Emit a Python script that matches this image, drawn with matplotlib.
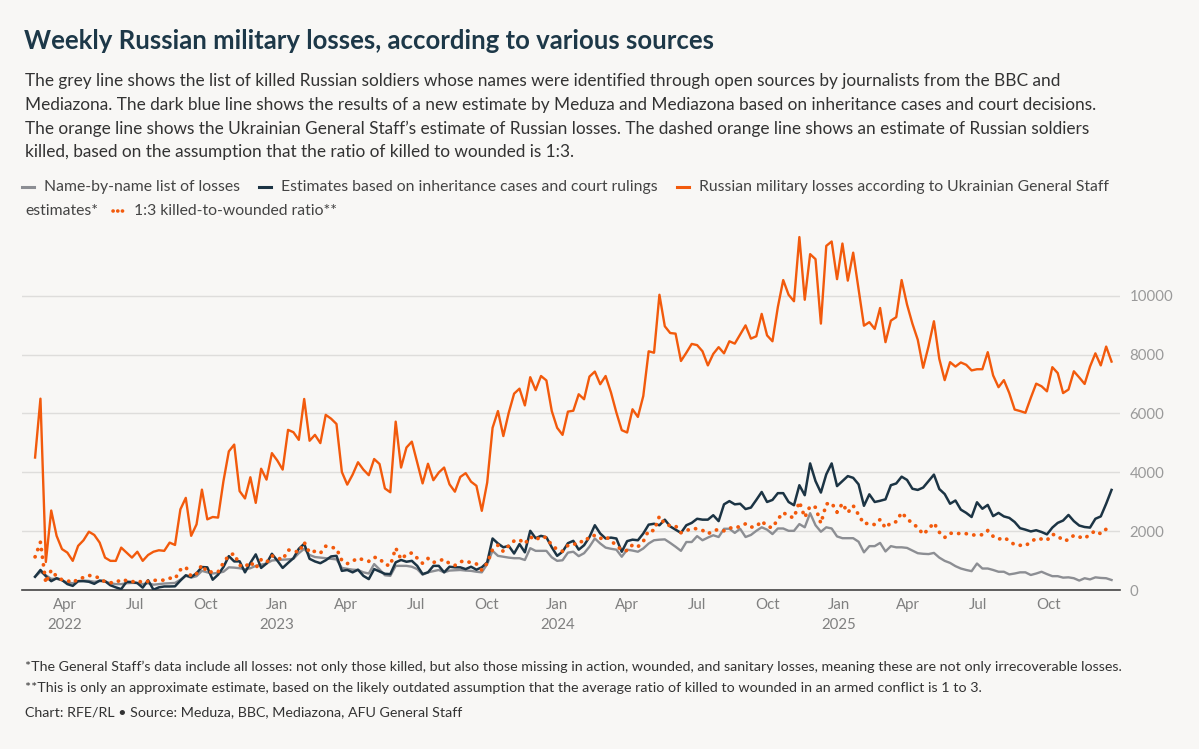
import matplotlib
matplotlib.use('Agg')
import matplotlib.pyplot as plt
from matplotlib.lines import Line2D
import pandas as pd

plt.rcParams['font.family'] = ['Lato', 'DejaVu Sans']

# weekly values, first week starting 2022-02-21
start_week = '2022-02-21'

genstaff = [
    4500, 6500, 950, 2700, 1840, 1390, 1270, 990, 1500, 1690,
    1980, 1870, 1610, 1100, 990, 990, 1440, 1270, 1100, 1300,
    990, 1190, 1300, 1350, 1330, 1610, 1530, 2740, 3130, 1840,
    2230, 3410, 2400, 2480, 2460, 3700, 4710, 4940, 3360, 3110,
    3830, 2960, 4120, 3750, 4650, 4400, 4090, 5440, 5360, 5100,
    6490, 5070, 5270, 4990, 5950, 5820, 5640, 4010, 3580, 3920,
    4340, 4090, 3900, 4450, 4280, 3450, 3320, 5720, 4160, 4840,
    5040, 4330, 3620, 4290, 3730, 3990, 4160, 3590, 3340, 3840,
    3970, 3680, 3540, 2690, 3650, 5510, 6080, 5230, 6020, 6670,
    6840, 6270, 7230, 6790, 7270, 7120, 6080, 5510, 5270, 6060,
    6090, 6650, 6480, 7250, 7420, 6990, 7270, 6710, 6030, 5430,
    5350, 6140, 5880, 6590, 8110, 8060, 10030, 8960, 8730, 8710,
    7780, 8060, 8360, 8320, 8110, 7630, 8020, 8250, 8040, 8450,
    8370, 8680, 8990, 8540, 8620, 9380, 8650, 8450, 9610, 10530,
    10030, 9810, 11990, 9860, 11410, 11240, 9050, 11690, 11840, 10560,
    11770, 10510, 11460, 10230, 8980, 9100, 8870, 9580, 8420, 9150,
    9270, 10530, 9700, 9050, 8500, 7550, 8280, 9130, 7850, 7130,
    7740, 7590, 7730, 7650, 7460, 7500, 7500, 8080, 7290, 6890,
    7130, 6690, 6130, 6080, 6020, 6530, 7010, 6920, 6750, 7570,
    7370, 6690, 6810, 7430, 7220, 7000, 7590, 8040, 7630, 8270,
    7760,
]

ratio_1_3 = [
    1125, 1625, 238, 675, 460, 348, 318, 248, 375, 423,
    495, 468, 403, 275, 248, 248, 360, 318, 275, 325,
    248, 298, 325, 338, 333, 403, 383, 685, 783, 460,
    558, 853, 600, 620, 615, 925, 1178, 1235, 840, 778,
    958, 740, 1030, 938, 1163, 1100, 1023, 1360, 1340, 1275,
    1623, 1268, 1318, 1248, 1488, 1455, 1410, 1003, 895, 980,
    1085, 1023, 975, 1113, 1070, 863, 830, 1430, 1040, 1210,
    1260, 1083, 905, 1073, 933, 998, 1040, 898, 835, 960,
    993, 920, 885, 673, 913, 1378, 1520, 1308, 1505, 1668,
    1710, 1568, 1808, 1698, 1818, 1780, 1520, 1378, 1318, 1515,
    1523, 1663, 1620, 1813, 1855, 1748, 1818, 1678, 1508, 1358,
    1338, 1535, 1470, 1648, 2028, 2015, 2508, 2240, 2183, 2178,
    1945, 2015, 2090, 2080, 2028, 1908, 2005, 2063, 2010, 2113,
    2093, 2170, 2248, 2135, 2155, 2345, 2163, 2113, 2403, 2633,
    2508, 2453, 2998, 2465, 2853, 2810, 2263, 2923, 2960, 2640,
    2943, 2628, 2865, 2558, 2245, 2275, 2218, 2395, 2105, 2288,
    2318, 2633, 2425, 2263, 2125, 1888, 2070, 2283, 1963, 1783,
    1935, 1898, 1933, 1913, 1865, 1875, 1875, 2020, 1823, 1723,
    1783, 1673, 1533, 1520, 1505, 1633, 1753, 1730, 1688, 1893,
    1843, 1673, 1703, 1858, 1805, 1750, 1898, 2010, 1908, 2068,
    1940,
]

inheritance = [
    450, 680, 470, 300, 400, 340, 200, 140, 300, 300,
    280, 210, 320, 300, 160, 90, 30, 280, 270, 235,
    80, 330, 10, 90, 120, 120, 125, 320, 500, 440,
    570, 780, 770, 350, 520, 780, 1150, 970, 975, 600,
    920, 1210, 750, 900, 1230, 1000, 750, 920, 1080, 1400,
    1570, 1060, 970, 910, 1010, 1140, 1160, 650, 680, 600,
    690, 480, 370, 710, 630, 550, 540, 940, 1020, 960,
    990, 820, 540, 600, 820, 820, 600, 790, 770, 770,
    710, 790, 690, 770, 940, 1750, 1580, 1450, 1500, 1240,
    1560, 1280, 2010, 1760, 1840, 1790, 1450, 1160, 1300, 1590,
    1670, 1370, 1520, 1800, 2200, 1920, 1750, 1780, 1750, 1300,
    1660, 1710, 1690, 1920, 2220, 2250, 2200, 2390, 2160, 2050,
    1940, 2200, 2280, 2420, 2390, 2390, 2540, 2340, 2910, 3020,
    2910, 2930, 2750, 2800, 3060, 3330, 2990, 3060, 3290, 3290,
    2990, 2880, 3560, 3220, 4300, 3700, 3310, 3930, 4300, 3530,
    3700, 3870, 3810, 3590, 2860, 3250, 2990, 3030, 3080, 3560,
    3620, 3850, 3740, 3440, 3400, 3480, 3700, 3920, 3430, 3260,
    2930, 3040, 2730, 2620, 2480, 2980, 2760, 2890, 2510, 2620,
    2500, 2450, 2310, 2100, 2050, 1990, 2030, 1970, 1890, 2120,
    2280, 2360, 2550, 2340, 2190, 2140, 2120, 2420, 2500, 2930,
    3400,
]

names_list = [
    450, 620, 500, 380, 380, 330, 250, 230, 300, 320,
    310, 280, 300, 290, 230, 200, 200, 230, 240, 240,
    200, 230, 180, 200, 220, 230, 240, 350, 480, 420,
    470, 650, 600, 560, 580, 620, 770, 760, 740, 700,
    740, 820, 860, 900, 1000, 1020, 1030, 1040, 1060, 1250,
    1400, 1190, 1120, 1100, 1080, 1060, 1040, 750, 720, 690,
    680, 600, 560, 880, 700, 500, 480, 820, 820, 820,
    790, 710, 520, 600, 640, 680, 600, 660, 670, 680,
    660, 650, 620, 600, 880, 1330, 1160, 1130, 1100, 1080,
    1080, 1020, 1420, 1330, 1330, 1330, 1110, 990, 1010, 1270,
    1300, 1150, 1250, 1470, 1750, 1580, 1440, 1400, 1370, 1130,
    1370, 1340, 1300, 1410, 1580, 1690, 1710, 1720, 1600, 1470,
    1330, 1630, 1630, 1830, 1690, 1780, 1860, 1800, 2080, 2080,
    1940, 2080, 1800, 1870, 2010, 2130, 2050, 1900, 2090, 2090,
    2010, 2010, 2240, 2130, 2610, 2200, 1980, 2130, 2090, 1820,
    1760, 1760, 1760, 1640, 1280, 1490, 1490, 1600, 1310, 1490,
    1450, 1450, 1430, 1340, 1250, 1230, 1220, 1260, 1100, 990,
    920, 810, 730, 680, 640, 900, 730, 730, 680, 620,
    620, 530, 560, 600, 600, 510, 560, 620, 540, 470,
    470, 420, 430, 400, 320, 400, 360, 430, 410, 400,
    340,
]

tick_dates = ['2022-04-01', '2022-07-01', '2022-10-01', '2023-01-01',
              '2023-04-01', '2023-07-01', '2023-10-01', '2024-01-01',
              '2024-04-01', '2024-07-01', '2024-10-01', '2025-01-01',
              '2025-04-01', '2025-07-01', '2025-10-01']
tick_labels = ['Apr\n2022', 'Jul', 'Oct', 'Jan\n2023', 'Apr', 'Jul', 'Oct',
               'Jan\n2024', 'Apr', 'Jul', 'Oct', 'Jan\n2025', 'Apr', 'Jul', 'Oct']
y_ticks = [0, 2000, 4000, 6000, 8000, 10000]

title = 'Weekly Russian military losses, according to various sources'
subtitle = [
    'The grey line shows the list of killed Russian soldiers whose names were identified through open sources by journalists from the BBC and',
    'Mediazona. The dark blue line shows the results of a new estimate by Meduza and Mediazona based on inheritance cases and court decisions.',
    'The orange line shows the Ukrainian General Staff\u2019s estimate of Russian losses. The dashed orange line shows an estimate of Russian soldiers',
    'killed, based on the assumption that the ratio of killed to wounded is 1:3.',
]
footer = [
    '*The General Staff\u2019s data include all losses: not only those killed, but also those missing in action, wounded, and sanitary losses, meaning these are not only irrecoverable losses.',
    '**This is only an approximate estimate, based on the likely outdated assumption that the average ratio of killed to wounded in an armed conflict is 1 to 3.',
    'Chart: RFE/RL \u2022 Source: Meduza, BBC, Mediazona, AFU General Staff',
]

BG = '#f8f7f5'
ORANGE = '#f25a0c'
NAVY = '#1c3444'
GREY = '#8c8e93'
TEXT = '#333333'

W, H = 1199, 749
fig = plt.figure(figsize=(W / 100, H / 100), dpi=100, facecolor=BG)


def fy(px):
    return 1 - px / H


weeks = pd.date_range(start_week, periods=len(genstaff), freq='7D')

ax = fig.add_axes([22 / W, fy(590), (1120 - 22) / W, (590 - 225) / H])
ax.set_facecolor(BG)
ax.plot(weeks, names_list, color=GREY, lw=1.7, zorder=3)
ax.plot(weeks, inheritance, color=NAVY, lw=1.8, zorder=4)
ax.plot(weeks, genstaff, color=ORANGE, lw=1.7, zorder=5)
ax.plot(weeks, ratio_1_3, color=ORANGE, lw=2.7, linestyle=(0, (0.05, 2.0)),
        dash_capstyle='round', zorder=6)

ax.set_xlim(pd.Timestamp('2022-02-04'), pd.Timestamp('2026-01-02'))
ax.set_ylim(0, 12400)
ax.set_xticks(pd.to_datetime(tick_dates))
ax.set_xticklabels(tick_labels, linespacing=1.5)
ax.set_yticks(y_ticks)
ax.set_yticklabels([str(v) for v in y_ticks])
ax.yaxis.tick_right()
ax.tick_params(axis='y', length=0, pad=7, labelcolor='#9a9a9a', labelsize=10.8)
ax.tick_params(axis='x', length=0, pad=6, labelcolor='#808080', labelsize=10.8)
ax.yaxis.grid(True, color='#dedddb', lw=1)
ax.set_axisbelow(True)
for s in ['top', 'left', 'right']:
    ax.spines[s].set_visible(False)
ax.spines['bottom'].set_color('#444444')
ax.spines['bottom'].set_linewidth(1.2)

fig.text(24 / W, fy(41), title, fontsize=18.5, fontweight='bold', color='#1d3848', va='center')
for i, line in enumerate(subtitle):
    fig.text(25 / W, fy(81 + i * 23.7), line, fontsize=12.4, color=TEXT, va='center')
for y, line in zip([667, 688, 712], footer):
    fig.text(25 / W, fy(y), line, fontsize=10.3, color=TEXT, va='center')

# legend, built item by item
fig.canvas.draw()
renderer = fig.canvas.get_renderer()


def legend_item(x, y, label, color, dotted=False, marker=True):
    if marker:
        if dotted:
            fig.add_artist(Line2D([(x + 1) / W, (x + 14) / W], [fy(y), fy(y)], color=color, lw=2.6,
                                  linestyle=(0, (0.05, 1.25)), dash_capstyle='round'))
        else:
            fig.add_artist(Line2D([x / W, (x + 12) / W], [fy(y), fy(y)], color=color, lw=2.2))
        x += 22
    t = fig.text(x / W, fy(y), label, fontsize=11.3, color='#444444', va='center')
    bb = t.get_window_extent(renderer)
    return bb.x1 + 19


x = 22
x = legend_item(x, 187, 'Name-by-name list of losses', GREY)
x = legend_item(x, 187, 'Estimates based on inheritance cases and court rulings', NAVY)
legend_item(x, 187, 'Russian military losses according to Ukrainian General Staff', ORANGE)
x = legend_item(25, 211, 'estimates*', ORANGE, marker=False)
legend_item(x - 5, 211, '1:3 killed-to-wounded ratio**', ORANGE, dotted=True)

fig.savefig('out.png', dpi=100, facecolor=BG)
